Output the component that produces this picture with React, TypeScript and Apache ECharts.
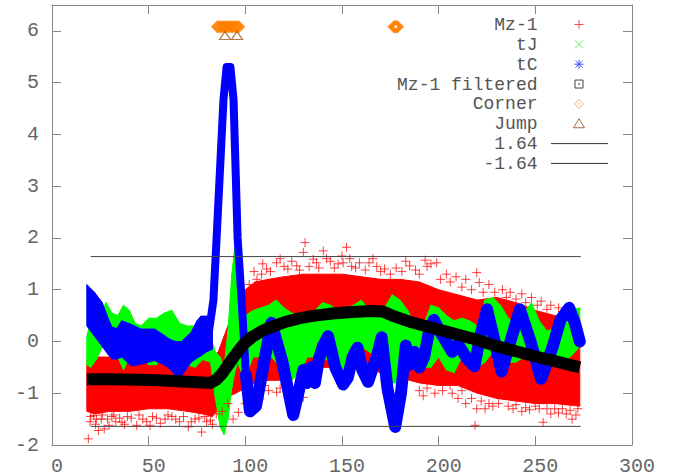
import { useEffect, useRef } from 'react';
import * as echarts from 'echarts';

// ---------- data ----------
const X_MIN = 0, X_MAX = 300, X_STEP = 50;
const Y_MIN = -2, Y_MAX = 6.5, Y_STEP = 1;

// Mz-1 (red +) dense cloud envelope
const RED_X = [18, 22, 30, 40, 50, 60, 70, 78, 83, 86, 89, 92, 95, 100, 105, 112, 120, 130, 140, 150, 160, 170, 180, 190, 200, 210, 220, 230, 240, 250, 260, 273];
const RED_HI = [-0.35, -0.3, -0.3, -0.25, -0.3, -0.3, -0.25, -0.3, -0.3, -0.2, 0.1, 0.4, 0.8, 1.0, 1.15, 1.2, 1.25, 1.3, 1.3, 1.3, 1.25, 1.2, 1.2, 1.15, 1.0, 0.9, 0.8, 0.85, 0.75, 0.6, 0.5, 0.45];
const RED_LO = [-1.35, -1.4, -1.35, -1.35, -1.3, -1.3, -1.35, -1.4, -1.45, -1.3, -1.2, -1.05, -1.0, -0.9, -0.8, -0.75, -0.75, -0.6, -0.5, -0.5, -0.5, -0.6, -0.7, -0.8, -0.85, -0.85, -1.0, -1.1, -1.15, -1.2, -1.2, -1.25];
// Mz-1 scattered points outside the dense cloud
const RED_OUTLIERS: number[][] = [
  [18.8, -1.88], [19.7, -1.55], [21.6, -1.43], [22.5, -1.6], [24, -1.72], [25.5, -1.5], [27, -1.69], [28.7, -1.5],
  [31, -1.45], [33, -1.55], [36.2, -1.56], [39, -1.45], [43.8, -1.62], [47, -1.5], [50.7, -1.62], [54, -1.48],
  [58.5, -1.5], [62, -1.45], [66, -1.55], [70.5, -1.65], [74, -1.5], [77.4, -1.75], [80, -1.55], [83, -1.6],
  [20, -1.45], [23, -1.5], [26, -1.42], [29.5, -1.62], [32, -1.42], [35, -1.48], [37.5, -1.6], [41, -1.48], [45, -1.42],
  [49, -1.55], [52, -1.45], [56, -1.58], [60, -1.42], [64, -1.5], [68, -1.45], [72, -1.55], [76, -1.48], [79, -1.45],
  [82, -1.52], [85, -1.4], [88, -1.35], [91, -1.2],
  [93.7, -1.5], [96.4, -1.37], [100, -1.2], [104, -1.0], [107.6, -1.11], [110, -0.85], [112, -0.95], [116.2, -0.98],
  [118, -0.9], [122, -0.85], [128, -0.9], [130, -1.08], [134, -0.8],
  [190, -0.95], [192, -1.05], [194, -0.9], [198, -1.0], [202, -0.95], [205.9, -0.85], [207, -1.0], [210, -1.1], [212, -0.95],
  [214, -1.2], [217, -1.1], [218.8, -1.62], [219.7, -1.3], [222, -1.15], [224, -1.3], [226, -1.2], [228, -1.25], [231, -1.2],
  [233, -1.0], [236, -1.25], [238.5, -1.3], [240, -1.22], [243, -1.35], [245, -1.28], [247, -1.32], [250, -1.25], [252, -1.3],
  [254, -1.56], [256, -1.3], [258, -1.4], [260, -1.3], [262, -1.38], [264, -1.3], [266, -1.4], [268, -1.33], [269, -1.5],
  [271, -1.42], [272, -1.3],
  [102, 1.1], [104.5, 1.35], [106, 1.2], [108.4, 1.3], [109, 1.5], [111, 1.4], [113, 1.35], [116.2, 1.52], [118, 1.6],
  [120, 1.45], [122, 1.4], [124, 1.55], [126.6, 1.46], [128, 1.38], [130, 1.72], [130.9, 1.91], [133, 1.45], [135.1, 1.59],
  [136.8, 1.52], [138, 1.42], [140.3, 1.75], [142, 1.6], [144, 1.55], [146, 1.42], [148, 1.5], [150, 1.65], [150.6, 1.52],
  [152.3, 1.82], [154, 1.6], [155, 1.45], [157, 1.42], [159, 1.52], [162, 1.38], [164, 1.52], [166, 1.6], [168, 1.45],
  [170, 1.35], [172, 1.4], [175, 1.3], [178, 1.42], [181, 1.35], [183, 1.55], [185, 1.46], [188, 1.38], [190, 1.3],
  [193, 1.57], [194, 1.45], [196, 1.5], [199, 1.52], [201, 1.2], [204, 1.3], [206, 1.15], [209, 1.25], [212, 1.05],
  [214, 1.2], [217, 1.0], [219.7, 1.33], [221, 1.14], [223, 0.95], [226, 1.1], [229, 0.95], [233, 1.0], [235, 0.85],
  [237, 0.95], [240, 0.82], [243, 0.92], [245, 0.75], [248, 0.85], [251, 0.7], [253, 0.78], [256, 0.62], [258, 0.7],
  [262, 0.65], [264, 0.55], [268, 0.6], [270, 0.52],
];

// tJ (green x) envelope
const GREEN_X = [18, 20, 23, 26, 28, 31, 34, 37, 40, 43, 46, 50, 54, 58, 62, 66, 70, 74, 78, 82, 84.5, 87, 89, 91, 93, 94.5, 96, 98, 100, 104, 108, 112, 116, 120, 124, 128, 132, 136, 140, 144, 148, 152, 156, 160, 164, 168, 172, 176, 180, 184, 188, 192, 196, 200, 204, 208, 212, 216, 220, 224, 228, 232, 236, 240, 244, 248, 252, 256, 260, 264, 268, 273];
const GREEN_HI = [0.1, 0.4, 0.35, 0.6, 0.75, 0.55, 0.5, 0.7, 0.6, 0.35, 0.3, 0.45, 0.45, 0.55, 0.6, 0.35, 0.3, 0.3, 0.3, 0.1, -0.2, -0.3, -0.5, 0.2, 1.3, 1.8, 1.2, 0.5, 0.5, 0.6, 0.65, 0.7, 0.8, 0.65, 0.55, 0.5, 0.5, 0.6, 0.75, 0.7, 0.6, 0.65, 0.7, 0.8, 0.6, 0.5, 0.65, 0.9, 0.8, 0.6, 0.3, 0.3, 0.7, 0.65, 0.5, 0.4, 0.45, 0.4, 0.3, 0.8, 0.85, 0.7, 0.45, 0.35, 0.55, 0.75, 0.4, 0.2, 0.25, 0.4, 0.6, 0.65];
const GREEN_LO = [-0.45, -0.5, -0.35, -0.1, -0.1, -0.1, -0.3, -0.55, -0.3, -0.15, -0.2, -0.45, -0.45, -0.2, -0.2, -0.2, -0.45, -0.5, -0.35, -0.4, -1.1, -1.65, -1.8, -1.5, -0.9, -0.6, -0.4, -0.6, -0.7, -0.3, -0.3, -0.25, -0.4, -0.6, -0.75, -0.6, -0.3, -0.3, -0.3, -0.4, -0.6, -0.6, -0.2, -0.1, -0.2, -0.3, -0.6, -0.8, -0.8, -0.3, -0.5, -0.5, -0.5, -0.3, -0.55, -0.6, -0.3, -0.2, -0.5, -0.4, -0.2, -0.35, -0.4, -0.4, -0.3, -0.2, -0.3, -0.35, -0.4, -0.4, -0.3, -0.1];

// tC (blue *) : wide noisy part, the big peak, then the thick trace
const BLUE_WIDE_X = [18, 22, 26, 29, 31, 33.5, 36, 41, 46, 53, 58, 61, 64, 67, 72, 75, 77, 80, 83];
const BLUE_WIDE_HI = [1.1, 0.95, 0.75, 0.45, 0.28, 0.25, 0.4, 0.33, 0.24, 0.24, 0.12, 0.04, 0.0, 0.0, 0.18, 0.4, 0.49, 0.49, 0.5];
const BLUE_WIDE_LO = [0.3, 0.1, -0.1, -0.25, -0.34, -0.34, -0.3, -0.47, -0.44, -0.37, -0.45, -0.53, -0.66, -0.66, -0.4, -0.32, -0.28, -0.2, -0.15];
const BLUE_PEAK: number[][] = [
  [81, 0.15], [83.5, 0.8], [85.1, 1.97], [88.7, 4.67], [90.3, 5.3], [92.3, 5.3], [93.9, 4.67], [96, 2.0], [98, 0.85],
  [100.3, -0.65],
];
const BLUE_TRACE: number[][] = [
  [100.3, -0.65], [102.4, -1.35], [105.5, -1.25], [109.7, -0.4], [113.5, 0.36], [119.2, -0.4], [124.8, -1.42], [128, -0.9],
  [130, -0.55], [132, -0.8], [134, -0.5], [136, -0.8], [138, -0.35], [140, -0.1], [142.8, 0.1], [146.5, -0.5],
  [150.6, -0.83], [153, -0.7], [155.5, -0.3], [158, -0.12], [160.5, -0.55], [163.5, -0.78], [166, -0.5], [168, -0.3],
  [170.5, 0.08], [173.5, -0.9], [177.5, -1.65], [180.5, -1.0], [183, -0.08], [185, -0.45], [187.5, -0.2], [190, -0.5],
  [192.5, -0.3], [195, 0.2], [197.5, 0.42], [200.5, 0.2], [203, 0.05], [207, -0.2], [210, -0.05], [215, -0.35],
  [218.5, -0.48], [221.5, 0.1], [225, 0.62], [229, 0.0], [232.5, -0.58], [237.5, 0.05], [242, 0.62], [247.5, 0.0],
  [253, -0.72], [259, -0.1], [263, 0.42], [267.5, 0.65], [270.5, 0.35], [273, 0.0],
];

// Mz-1 filtered (black squares)
const FILTERED: number[][] = [
  [18, -0.73], [30, -0.73], [45, -0.74], [55, -0.75], [65, -0.77], [75, -0.79], [82, -0.8], [85, -0.74], [88, -0.62],
  [91, -0.46], [94, -0.3], [97, -0.15], [100, -0.02], [104, 0.1], [108, 0.19], [112, 0.26], [120, 0.37], [128, 0.45],
  [136, 0.5], [145, 0.54], [155, 0.57], [165, 0.59], [171, 0.58], [176, 0.5], [186, 0.37], [195, 0.28], [203, 0.2],
  [212, 0.11], [220, 0.03], [229, -0.08], [240, -0.19], [250, -0.29], [260, -0.38], [273, -0.5],
];

const CORNER_X = [85.5, 86.3, 87.1, 87.9, 88.7, 89.5, 90.3, 91.1, 91.9, 92.7, 93.5, 94.3, 95.1, 95.9, 96.7, 176.8, 177.3, 177.8, 178.3, 178.8];
const CORNER_Y = 6.08;
const JUMP_X = [89.5, 95.7];
const JUMP_Y = 5.91;
const THRESHOLDS = [1.64, -1.64];
const THRESHOLD_X = [20, 273.5];

const LEGEND_LABELS = ['Mz-1', 'tJ', 'tC', 'Mz-1 filtered', 'Corner', 'Jump', '1.64', '-1.64'];

// ---------- helpers ----------
function bandSeries(xs: number[], lo: number[], hi: number[], color: string) {
  const data: number[][] = [];
  for (let i = 0; i < xs.length - 1; i++) {
    data.push([xs[i], lo[i], hi[i], xs[i + 1], lo[i + 1], hi[i + 1]]);
  }
  return {
    type: 'custom',
    silent: true,
    clip: true,
    encode: { x: [0, 3], y: [1, 2, 4, 5] },
    data,
    renderItem: (_p: any, api: any) => {
      const a = api.coord([api.value(0), api.value(1)]);
      const b = api.coord([api.value(0), api.value(2)]);
      const c = api.coord([api.value(3), api.value(5)]);
      const d = api.coord([api.value(3), api.value(4)]);
      return {
        type: 'polygon',
        shape: { points: [a, b, c, d] },
        style: { fill: color, stroke: color, lineWidth: 1 },
      };
    },
  };
}

const FONT = '"Liberation Mono", "DejaVu Sans Mono", monospace';
const AXIS_COLOR = '#888888';
const LABEL_COLOR = '#666666';

function legendGraphics() {
  const tx = 537.5;
  const lx = 579;
  const rowY = (i: number) => 24.5 + i * 19.85;
  const els: any[] = [];
  LEGEND_LABELS.forEach((t, i) => {
    els.push({
      type: 'text',
      x: tx,
      y: rowY(i) + 0.5,
      z: 100,
      style: {
        text: t,
        fill: '#555555',
        font: `18px ${FONT}`,
        lineHeight: 18,
        align: 'right',
        verticalAlign: 'middle',
        textAlign: 'right',
        textVerticalAlign: 'middle',
      },
    });
  });
  const ln = (x1: number, y1: number, x2: number, y2: number, stroke: string) => ({
    type: 'line', z: 100, shape: { x1, y1, x2, y2 }, style: { stroke, lineWidth: 1 },
  });
  let y = rowY(0);
  els.push(ln(lx - 4.5, y, lx + 4.5, y, '#ff4a4a'), ln(lx, y - 4.5, lx, y + 4.5, '#ff4a4a'));
  y = rowY(1);
  els.push(ln(lx - 4, y - 4, lx + 4, y + 4, '#55ee55'), ln(lx - 4, y + 4, lx + 4, y - 4, '#55ee55'));
  y = rowY(2);
  els.push(
    ln(lx - 4.5, y, lx + 4.5, y, '#4a4aff'), ln(lx, y - 4.5, lx, y + 4.5, '#4a4aff'),
    ln(lx - 3.5, y - 3.5, lx + 3.5, y + 3.5, '#4a4aff'), ln(lx - 3.5, y + 3.5, lx + 3.5, y - 3.5, '#4a4aff'),
  );
  y = rowY(3);
  els.push(
    { type: 'rect', z: 100, shape: { x: lx - 4, y: y - 4, width: 8, height: 8 }, style: { fill: 'none', stroke: '#444', lineWidth: 1 } },
    { type: 'circle', z: 100, shape: { cx: lx, cy: y, r: 0.8 }, style: { fill: '#444' } },
  );
  y = rowY(4);
  els.push(
    { type: 'polygon', z: 100, shape: { points: [[lx, y - 4.5], [lx + 4.5, y], [lx, y + 4.5], [lx - 4.5, y]] }, style: { fill: 'none', stroke: '#ffa860', lineWidth: 1 } },
    { type: 'circle', z: 100, shape: { cx: lx, cy: y, r: 0.7 }, style: { fill: '#ffa860' } },
  );
  y = rowY(5);
  els.push(
    { type: 'polygon', z: 100, shape: { points: [[lx, y - 5], [lx + 5.5, y + 4], [lx - 5.5, y + 4]] }, style: { fill: 'none', stroke: '#a8683a', lineWidth: 1 } },
  );
  els.push(ln(551, rowY(6), 608, rowY(6), '#333333'));
  els.push(ln(551, rowY(7), 608, rowY(7), '#333333'));
  return els;
}

function buildOption() {
  const axisCommon = {
    axisLine: { show: true, onZero: false, lineStyle: { color: AXIS_COLOR, width: 1 } },
    axisTick: { show: true, inside: true, length: 9, lineStyle: { color: AXIS_COLOR, width: 1 } },
    splitLine: { show: false },
  };
  return {
    animation: false,
    backgroundColor: '#ffffff',
    grid: { left: 52, right: 41, top: 5, bottom: 30, containLabel: false },
    xAxis: [
      {
        type: 'value', min: X_MIN, max: X_MAX, interval: X_STEP, position: 'bottom', ...axisCommon,
        axisLabel: { color: LABEL_COLOR, fontFamily: FONT, fontSize: 20, margin: 11, padding: [0, 0, 0, 10] },
      },
      {
        type: 'value', min: X_MIN, max: X_MAX, interval: X_STEP, position: 'top', ...axisCommon,
        axisLabel: { show: false },
      },
    ],
    yAxis: [
      {
        type: 'value', min: Y_MIN, max: Y_MAX, interval: Y_STEP, position: 'left', ...axisCommon,
        axisLabel: {
          color: LABEL_COLOR, fontFamily: FONT, fontSize: 20, margin: 13,
          formatter: (v: number) => (Number.isInteger(v) ? String(v) : ''),
        },
      },
      {
        type: 'value', min: Y_MIN, max: Y_MAX, interval: Y_STEP, position: 'right', ...axisCommon,
        axisLabel: { show: false },
      },
    ],
    series: [
      bandSeries(RED_X, RED_LO, RED_HI, '#ff0000'),
      {
        type: 'scatter', silent: true, data: RED_OUTLIERS,
        symbol: 'path://M0 5 L10 5 M5 0 L5 10', symbolSize: 9,
        itemStyle: { color: 'rgba(0,0,0,0)', borderColor: '#ff1010', borderWidth: 1 },
      },
      bandSeries(GREEN_X, GREEN_LO, GREEN_HI, '#00ff00'),
      bandSeries(BLUE_WIDE_X, BLUE_WIDE_LO, BLUE_WIDE_HI, '#0000ff'),
      {
        type: 'line', silent: true, data: BLUE_PEAK, symbol: 'none',
        lineStyle: { color: '#0000ff', width: 8, join: 'round' },
      },
      {
        type: 'line', silent: true, data: BLUE_TRACE, symbol: 'none',
        lineStyle: { color: '#0000ff', width: 12, join: 'round', cap: 'round' },
      },
      {
        type: 'line', silent: true, data: FILTERED, symbol: 'none',
        lineStyle: { color: '#000000', width: 12, join: 'round' },
      },
      ...THRESHOLDS.map((t) => ({
        type: 'line', silent: true, symbol: 'none',
        data: THRESHOLD_X.map((x) => [x, t]),
        lineStyle: { color: '#444444', width: 1 },
      })),
      {
        type: 'scatter', silent: true, data: CORNER_X.map((x) => [x, CORNER_Y]),
        symbol: 'diamond', symbolSize: [10, 10],
        itemStyle: { color: 'rgba(0,0,0,0)', borderColor: '#ff8000', borderWidth: 2 },
      },
      {
        type: 'scatter', silent: true, data: JUMP_X.map((x) => [x, JUMP_Y]),
        symbol: 'triangle', symbolSize: [11, 8],
        itemStyle: { color: 'rgba(0,0,0,0)', borderColor: '#a0581e', borderWidth: 1.2 },
      },
    ],
    graphic: legendGraphics(),
  };
}

export default function App() {
  const ref = useRef<HTMLDivElement>(null);
  useEffect(() => {
    if (!ref.current) return;
    const chart = echarts.init(ref.current, undefined, { renderer: 'svg' });
    chart.setOption(buildOption() as any);
    return () => chart.dispose();
  }, []);
  return (
    <div
      ref={ref}
      style={{ position: 'absolute', left: 0, top: 0, width: 673, height: 476, background: '#fff' }}
    />
  );
}
